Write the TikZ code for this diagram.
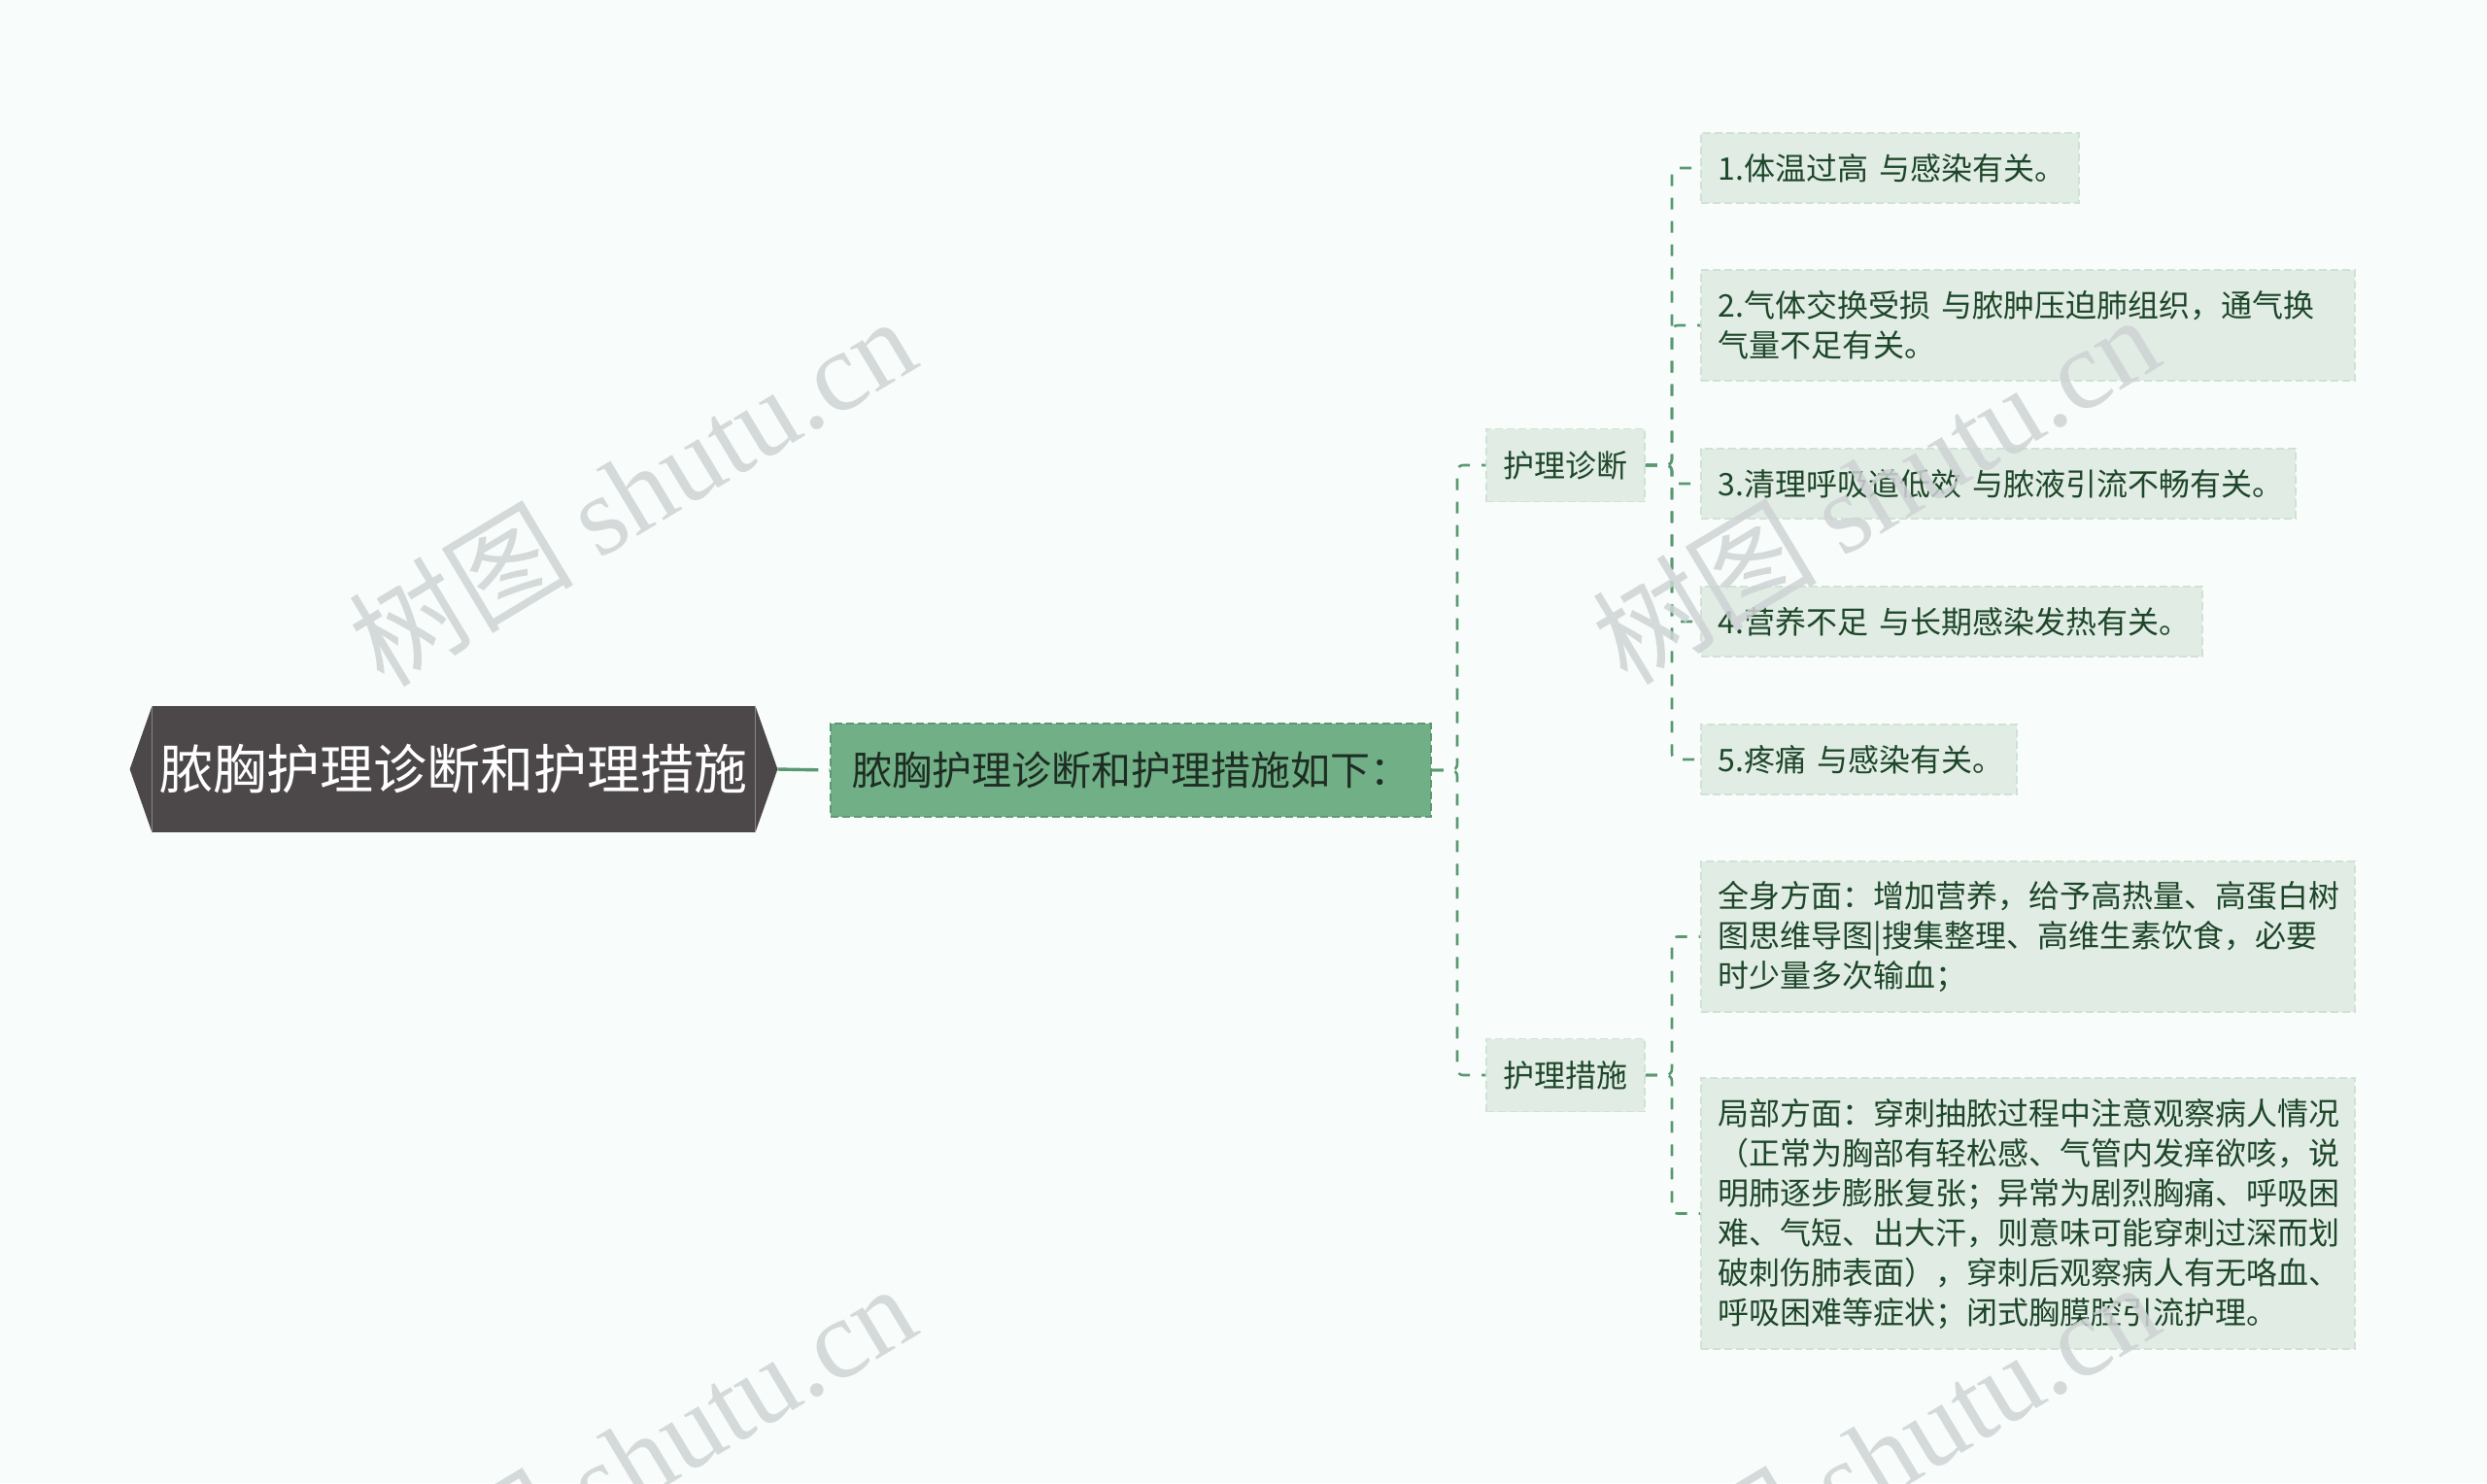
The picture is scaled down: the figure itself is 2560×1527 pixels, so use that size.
\documentclass[tikz,border=0pt]{standalone}
\usepackage{fontspec}
\setmainfont{Noto Sans CJK SC}
\newfontfamily\wmserif{Liberation Serif}
\newfontfamily\wmcjk{Noto Sans CJK SC}
\definecolor{bgc}{RGB}{248,253,252}
\definecolor{rootfill}{RGB}{76,71,72}
\definecolor{midfill}{RGB}{113,175,134}
\definecolor{midborder}{RGB}{92,152,113}
\definecolor{midtext}{RGB}{30,45,35}
\definecolor{leaffill}{RGB}{225,237,228}
\definecolor{leafborder}{RGB}{208,226,213}
\definecolor{leaftext}{RGB}{30,70,42}
\definecolor{edgec}{RGB}{90,152,114}
\definecolor{wmc}{RGB}{206,211,212}
\begin{document}
\begin{tikzpicture}[x=0.5pt,y=-0.5pt,
  rootbox/.style={rectangle, fill=rootfill, text=white, font=\fontsize{27.5pt}{33pt}\selectfont,
    minimum width=310pt, minimum height=65pt, inner sep=0pt},
  midbox/.style={rectangle, fill=midfill, draw=midborder, dash pattern=on 4pt off 2pt, line width=0.8pt,
    text=midtext, font=\fontsize{20.5pt}{25pt}\selectfont, minimum width=309pt, minimum height=48pt, inner sep=0pt},
  subbox/.style={rectangle, fill=leaffill, draw=leafborder, dash pattern=on 4pt off 2pt, line width=0.8pt,
    text=leaftext, font=\fontsize{16pt}{20pt}\selectfont, minimum width=81.5pt, minimum height=37.5pt, inner sep=0pt},
  leafbox/.style={rectangle, fill=leaffill, draw=leafborder, dash pattern=on 4pt off 2pt, line width=0.8pt,
    text=leaftext, font=\fontsize{16pt}{20.5pt}\selectfont, align=left, inner xsep=9pt, inner ysep=0pt, anchor=west},
  link/.style={draw=edgec, line width=1.3pt, dash pattern=on 6pt off 6pt, rounded corners=3pt},
  rootlink/.style={draw=edgec, line width=1.7pt, dash pattern=on 21pt off 5.5pt},
  wm/.style={text=wmc, rotate=31, inner sep=0pt, font=\fontsize{58pt}{64pt}\selectfont}
]
\useasboundingbox (0,0) rectangle (2560,1527);
\fill[bgc] (0,0) rectangle (2560,1527);

% root
\node[rootbox] (root) at (467,792) {脓胸护理诊断和护理措施};
\fill[rootfill] (root.north east) -- ([xshift=11.5pt]root.east) -- (root.south east) -- cycle;
\fill[rootfill] (root.north west) -- ([xshift=-11.5pt]root.west) -- (root.south west) -- cycle;
\coordinate (rootR) at ([xshift=11.5pt]root.east);

% middle
\node[midbox] (mid) at (1164,793) {脓胸护理诊断和护理措施如下：};

% second level
\node[subbox] (dx) at (1611.5,479) {护理诊断};
\node[subbox] (ms) at (1611.5,1107) {护理措施};

\coordinate (L1) at (1500,0);
\coordinate (L2) at (1721,0);

% leaves
\node[leafbox, text width=176.5pt, minimum height=36pt] (c1) at (1750,173) {\mbox{1.体温过高 与感染有关。}};
\node[leafbox, text width=318.5pt, minimum height=57pt] (c2) at (1750,335) {\mbox{2.气体交换受损 与脓肿压迫肺组织，通气换}\\气量不足有关。};
\node[leafbox, text width=288pt, minimum height=36pt] (c3) at (1750,498) {\mbox{3.清理呼吸道低效 与脓液引流不畅有关。}};
\node[leafbox, text width=240pt, minimum height=36pt] (c4) at (1750,640) {\mbox{4.营养不足 与长期感染发热有关。}};
\node[leafbox, text width=144.5pt, minimum height=36pt] (c5) at (1750,782) {\mbox{5.疼痛 与感染有关。}};
\node[leafbox, text width=318.5pt, minimum height=77.5pt] (c6) at (1750,964.5) {全身方面：增加营养，给予高热量、高蛋白树\\图思维导图|搜集整理、高维生素饮食，必要\\时少量多次输血；};
\node[leafbox, text width=318.5pt, minimum height=139.5pt] (c7) at (1750,1249.5) {局部方面：穿刺抽脓过程中注意观察病人情况\\（正常为胸部有轻松感、气管内发痒欲咳，说\\明肺逐步膨胀复张；异常为剧烈胸痛、呼吸困\\难、气短、出大汗，则意味可能穿刺过深而划\\破刺伤肺表面），穿刺后观察病人有无咯血、\\呼吸困难等症状；闭式胸膜腔引流护理。};

% connectors
\draw[rootlink] (rootR) -- (mid.west);
\draw[link] (mid.east) -- (mid.east -| L1) |- (dx.west);
\draw[link] (mid.east) -- (mid.east -| L1) |- (ms.west);
\foreach \c in {c1,c2,c3,c4,c5} {
  \draw[link] (dx.east) -- (dx.east -| L2) |- (\c.west);
}
\foreach \c in {c6,c7} {
  \draw[link] (ms.east) -- (ms.east -| L2) |- (\c.west);
}

% watermarks
\node[wm, opacity=0.85] (wm1) at (650,505) {{\wmcjk 树图} {\wmserif shutu.cn}};
\node[wm, opacity=0.85] (wm2) at (1930,503) {{\wmcjk 树图} {\wmserif shutu.cn}};
\node[wm, opacity=0.85] (wm3) at (650,1501) {{\wmcjk 树图} {\wmserif shutu.cn}};
\node[wm, opacity=0.85] (wm4) at (1930,1499) {{\wmcjk 树图} {\wmserif shutu.cn}};
\end{tikzpicture}
\end{document}
